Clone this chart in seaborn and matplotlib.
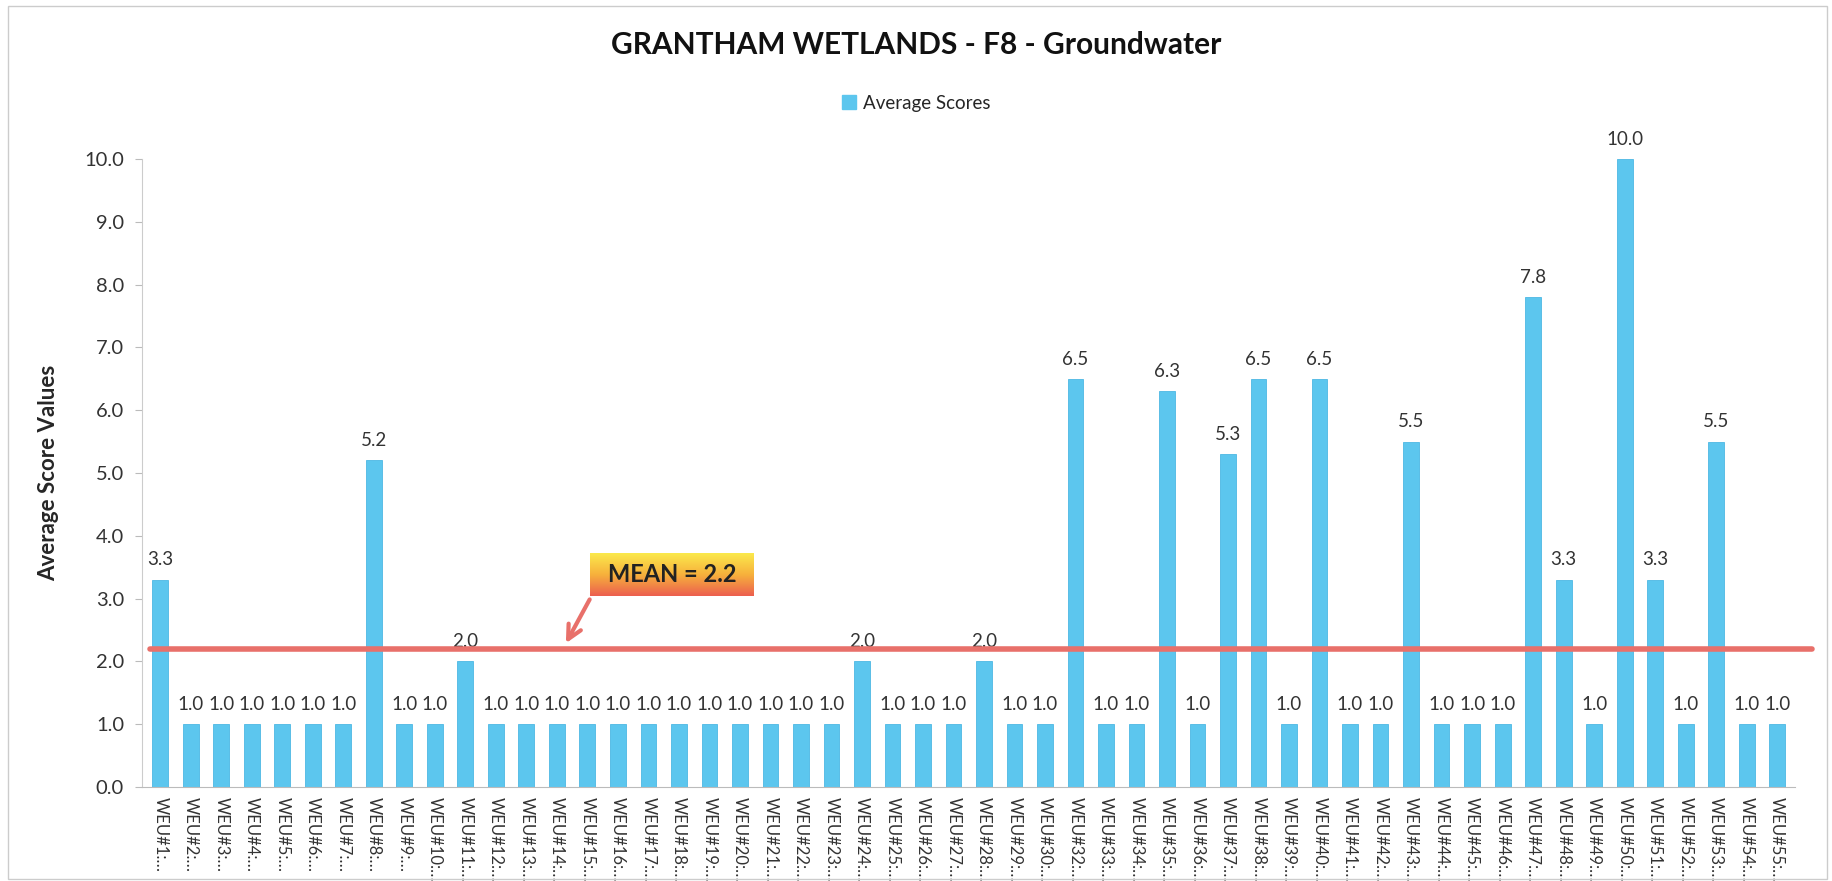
import numpy as np
import pandas as pd
import seaborn as sns
import matplotlib.pyplot as plt
from matplotlib.patches import Rectangle

# site ids on the x axis (no #31 in the source chart)
site_ids = list(range(1, 31)) + list(range(32, 56))
scores = [3.3, 1.0, 1.0, 1.0, 1.0, 1.0, 1.0, 5.2, 1.0, 1.0,
          2.0, 1.0, 1.0, 1.0, 1.0, 1.0, 1.0, 1.0, 1.0, 1.0,
          1.0, 1.0, 1.0, 2.0, 1.0, 1.0, 1.0, 2.0, 1.0, 1.0,
          6.5, 1.0, 1.0, 6.3, 1.0, 5.3, 6.5, 1.0, 6.5, 1.0,
          1.0, 5.5, 1.0, 1.0, 1.0, 7.8, 3.3, 1.0, 10.0, 3.3,
          1.0, 5.5, 1.0, 1.0]
labels = ["WEU#%d:\u2026" % i for i in site_ids]
y_ticks = np.arange(0, 11, 1)

BAR = "#5cc6ee"
MEANRED = "#e8706a"

df = pd.DataFrame({"site": labels, "score": scores})
mean_val = round(float(np.mean(scores)), 1)

sns.set_style("white")
plt.rcParams['font.family'] = ['Lato', 'DejaVu Sans']

fig = plt.figure(figsize=(18.33, 8.81), dpi=100)
ax = fig.add_axes([0.0775, 0.1067, 0.902, 0.7128])

sns.barplot(data=df, x="site", y="score", color=BAR, width=0.52,
            edgecolor="#4db8e4", linewidth=0.6, saturation=1, ax=ax)

for i, v in enumerate(scores):
    ax.text(i, v + 0.18, "%.1f" % v, ha="center", va="bottom",
            fontsize=13.5, color="#333333", clip_on=False)

ax.set_ylim(0, 10)
ax.set_xlim(-0.6, len(scores) - 0.4)
ax.set_yticks(y_ticks)
ax.set_yticklabels(["%.1f" % t for t in y_ticks], fontsize=14.5, color="#333333")
ax.tick_params(axis="y", length=5, color="#bbbbbb", direction="out", pad=8, left=True)
ax.tick_params(axis="x", length=0, pad=7)
plt.setp(ax.get_xticklabels(), rotation=270, fontsize=12, color="#333333")
ax.set_xlabel("")
ax.set_ylabel("Average Score Values", fontsize=16, fontweight="bold", labelpad=18)
for s in ["top", "right"]:
    ax.spines[s].set_visible(False)
ax.spines["left"].set_color("#cccccc")
ax.spines["bottom"].set_color("#bbbbbb")

# mean line and its tag
ax.axhline(mean_val, xmin=0.005, xmax=1.01, color=MEANRED, lw=4, clip_on=False, zorder=3)

box_ax = fig.add_axes([590 / 1833, 1 - 596 / 881, 164 / 1833, 43 / 881])
grad = np.linspace(0, 1, 100).reshape(-1, 1)
box_ax.imshow(grad, aspect="auto", cmap=sns.blend_palette(["#fbe94c", "#f7b13c", "#ec5f4f"], as_cmap=True),
              extent=[0, 1, 0, 1])
box_ax.text(0.5, 0.5, "MEAN = %.1f" % mean_val, ha="center", va="center",
            fontsize=17, fontweight="bold", color="#222222")
box_ax.set_axis_off()

ax.annotate("", xy=(13.25, mean_val + 0.05), xycoords="data",
            xytext=(591 / 1833, 1 - 597 / 881), textcoords="figure fraction",
            arrowprops=dict(arrowstyle="->", color=MEANRED, lw=3, mutation_scale=25))

fig.suptitle("GRANTHAM WETLANDS - F8 - Groundwater", y=0.965, fontsize=21.5,
             fontweight="bold", color="#111111")

handle = Rectangle((0, 0), 1, 1, color=BAR)
fig.legend([handle], ["Average Scores"], loc="center", bbox_to_anchor=(0.5, 1 - 103 / 881),
           frameon=False, fontsize=13.5, handlelength=0.7, handleheight=0.7, handletextpad=0.4)

fig.patches.append(Rectangle((8 / 1833, 0.002), 1 - 14 / 1833, 1 - 8 / 881,
                             transform=fig.transFigure, fill=False,
                             edgecolor="#cccccc", lw=1))

fig.savefig("out.png", dpi=100)
